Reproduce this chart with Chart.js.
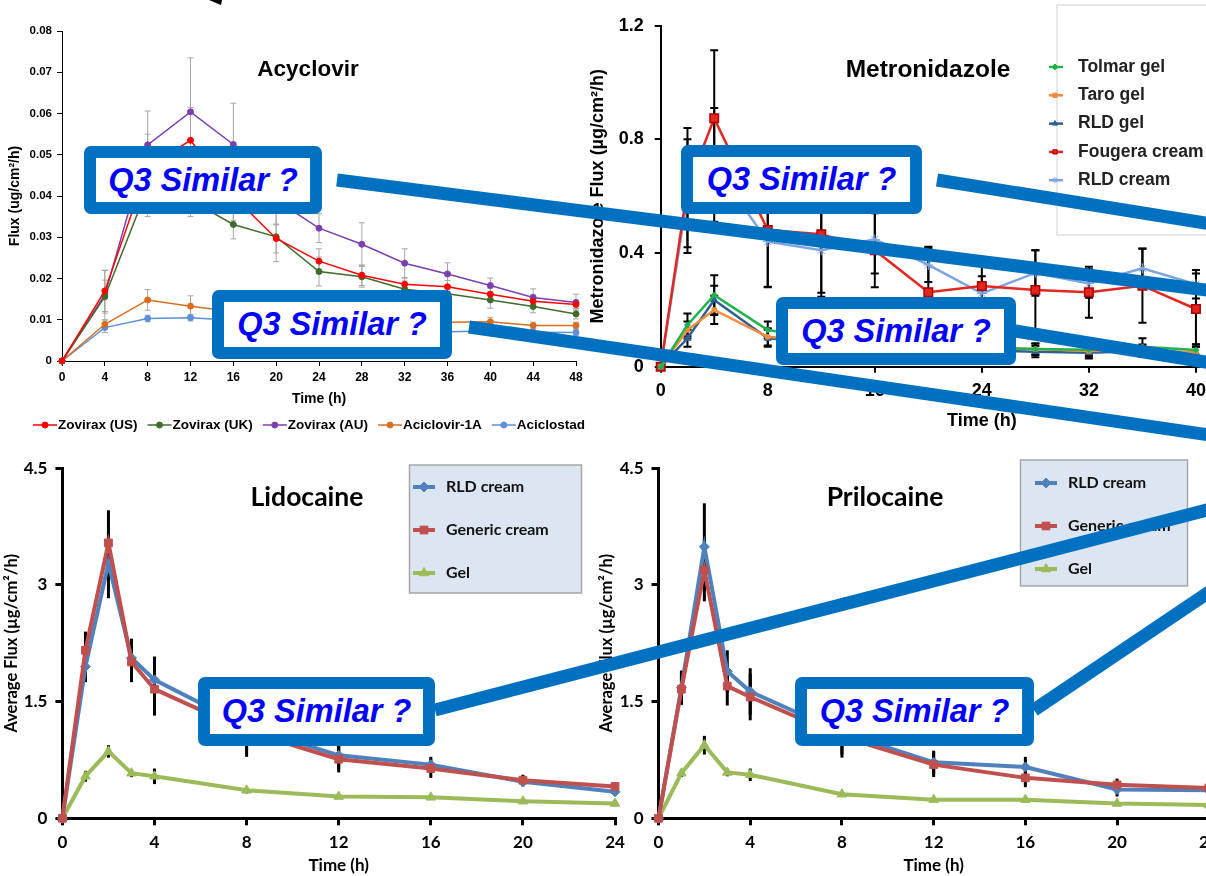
<!DOCTYPE html>
<html>
<head>
<meta charset="utf-8">
<title>Q3 similarity - flux profiles</title>
<script src="https://cdn.jsdelivr.net/npm/chart.js@4.4.0/dist/chart.umd.min.js"></script>
<style>
  body { margin: 0; width: 1206px; height: 876px; overflow: hidden; background: #fff; position: relative; }
  canvas { position: absolute; }
  #overlay { position: absolute; left: 0; top: 0; z-index: 5; }
  .q3 {
    position: absolute; z-index: 6; box-sizing: border-box;
    border: 12px solid #0070c0; border-radius: 7px; background: #fff;
    color: #0000ff; font: italic bold 32.5px "Liberation Sans", Arial, sans-serif;
    display: flex; align-items: center; justify-content: center; white-space: nowrap;
  }
</style>
</head>
<body>

<canvas id="acy-chart" width="600" height="445" style="left:0;top:0"></canvas>
<canvas id="metro-chart" width="745" height="445" style="left:585px;top:0"></canvas>
<canvas id="lido-chart" width="640" height="426" style="left:0;top:450px"></canvas>
<canvas id="prilo-chart" width="640" height="426" style="left:595px;top:450px"></canvas>

<svg id="overlay" width="1206" height="876">
  <polygon points="209,0 222,0 221,5" fill="#000"/>
  <g stroke="#0070c0" stroke-width="13">
    <line x1="337" y1="180" x2="1230" y2="293"/>
    <line x1="469" y1="327" x2="1230" y2="438"/>
    <line x1="937" y1="180" x2="1230" y2="227"/>
    <line x1="1015" y1="331" x2="1230" y2="366"/>
    <line x1="435" y1="710" x2="1230" y2="504"/>
    <line x1="1034" y1="710" x2="1230" y2="578"/>
  </g>
</svg>

<div class="q3" style="left:84px;top:146px;width:238px;height:68px">Q3 Similar ?</div>
<div class="q3" style="left:212px;top:290px;width:240px;height:69px">Q3 Similar ?</div>
<div class="q3" style="left:681px;top:145px;width:241px;height:69px">Q3 Similar ?</div>
<div class="q3" style="left:776px;top:297px;width:240px;height:68px">Q3 Similar ?</div>
<div class="q3" style="left:198px;top:677px;width:237px;height:69px">Q3 Similar ?</div>
<div class="q3" style="left:795px;top:677px;width:239px;height:69px">Q3 Similar ?</div>

<script>
// ---------- Acyclovir ----------
const acyTime = [0, 4, 8, 12, 16, 20, 24, 28, 32, 36, 40, 44, 48];
const zoviraxUS = [0, 0.017, 0.047, 0.0535, 0.040, 0.0297, 0.0242, 0.0208, 0.0186, 0.0180, 0.0162, 0.0145, 0.0137];
const zoviraxUK = [0, 0.0156, 0.042, 0.039, 0.0331, 0.0301, 0.0217, 0.0204, 0.0174, 0.0163, 0.0148, 0.0132, 0.0114];
const zoviraxAU = [0, 0.016, 0.0524, 0.0604, 0.0525, 0.039, 0.0322, 0.0283, 0.0237, 0.0211, 0.0183, 0.0154, 0.0142];
const aciclovir1A = [0, 0.0089, 0.0148, 0.0133, 0.012, 0.0112, 0.0104, 0.0099, 0.0095, 0.0094, 0.0095, 0.0086, 0.0086];
const aciclostad = [0, 0.0081, 0.0103, 0.0105, 0.0099, 0.0093, 0.0088, 0.0083, 0.0078, 0.0071, 0.0073, 0.0070, 0.0069];
const zoviraxUSErr = [0, 0.005, 0.008, 0.008, 0.006, 0.0035, 0.003, 0.0025, 0.0015, 0.0015, 0.0015, 0.0015, 0.001];
const zoviraxUKErr = [0, 0.004, 0.007, 0.004, 0.0035, 0.006, 0.0035, 0.0025, 0.002, 0.0015, 0.002, 0.0015, 0.0012];
const zoviraxAUErr = [0, 0.006, 0.0082, 0.0131, 0.0100, 0.006, 0.0035, 0.0052, 0.0035, 0.0027, 0.0018, 0.0021, 0.0020];
const aciclovir1AErr = [0, 0.001, 0.0025, 0.0025, 0.002, 0.002, 0.0015, 0.0015, 0.001, 0.001, 0.001, 0.0008, 0.0008];
const aciclostadErr = [0, 0.0012, 0.0008, 0.0008, 0.0008, 0.0008, 0.0008, 0.0008, 0.0008, 0.0008, 0.0008, 0.0008, 0.0008];

// ---------- Metronidazole ----------
const metroTime = [0, 2, 4, 8, 12, 16, 20, 24, 28, 32, 36, 40];
const tolmarGel = [0, 0.147, 0.252, 0.129, 0.10, 0.085, 0.075, 0.068, 0.062, 0.06, 0.07, 0.059];
const taroGel = [0, 0.129, 0.20, 0.105, 0.09, 0.08, 0.07, 0.065, 0.062, 0.055, 0.058, 0.05];
const rldGel = [0, 0.10, 0.235, 0.10, 0.085, 0.075, 0.065, 0.058, 0.053, 0.049, 0.055, 0.05];
const fougeraCream = [0, 0.63, 0.874, 0.481, 0.466, 0.41, 0.262, 0.284, 0.27, 0.262, 0.285, 0.203];
const rldCream = [0, 0.60, 0.71, 0.44, 0.41, 0.448, 0.358, 0.258, 0.33, 0.293, 0.346, 0.29];
const tolmarGelErr = [0, 0.04, 0.07, 0.03, 0.02, 0.02, 0.02, 0.02, 0.02, 0.02, 0.03, 0.02];
const taroGelErr = [0, 0.03, 0.05, 0.03, 0.02, 0.02, 0.02, 0.02, 0.02, 0.02, 0.02, 0.02];
const rldGelErr = [0, 0.03, 0.05, 0.03, 0.02, 0.02, 0.02, 0.02, 0.02, 0.02, 0.02, 0.02];
const fougeraCreamErr = [0, 0.21, 0.24, 0.2, 0.22, 0.13, 0.16, 0.07, 0.14, 0.09, 0.13, 0.125];
const rldCreamErr = [0, 0.2, 0.2, 0.16, 0.15, 0.12, 0.06, 0.06, 0.08, 0.05, 0.07, 0.05];

// ---------- Lidocaine / Prilocaine ----------
const lapTime = [0, 1, 2, 3, 4, 8, 12, 16, 20, 24];
const lidoRld = [0, 1.95, 3.28, 2.06, 1.78, 1.18, 0.81, 0.69, 0.47, 0.34];
const lidoGeneric = [0, 2.16, 3.54, 2.01, 1.66, 1.12, 0.76, 0.64, 0.49, 0.41];
const lidoGel = [0, 0.54, 0.86, 0.58, 0.54, 0.36, 0.28, 0.27, 0.22, 0.19];
const lidoRldErr = [0, 0.2, 0.45, 0.25, 0.3, 0.3, 0.18, 0.1, 0.06, 0.05];
const lidoGenericErr = [0, 0.24, 0.42, 0.26, 0.34, 0.33, 0.17, 0.12, 0.07, 0.05];
const lidoGelErr = [0, 0.07, 0.08, 0.05, 0.1, 0.04, 0.03, 0.03, 0.02, 0.02];

const priloRld = [0, 1.68, 3.49, 1.89, 1.63, 1.1, 0.72, 0.66, 0.37, 0.36];
const priloGeneric = [0, 1.66, 3.19, 1.70, 1.56, 1.05, 0.69, 0.52, 0.43, 0.39];
const priloGel = [0, 0.58, 0.94, 0.59, 0.56, 0.31, 0.24, 0.24, 0.19, 0.17];
const priloRldErr = [0, 0.22, 0.56, 0.27, 0.3, 0.28, 0.15, 0.13, 0.09, 0.05];
const priloGenericErr = [0, 0.2, 0.4, 0.25, 0.3, 0.27, 0.16, 0.12, 0.08, 0.05];
const priloGelErr = [0, 0.05, 0.12, 0.05, 0.08, 0.03, 0.03, 0.03, 0.02, 0.02];

const ARIAL = '"Liberation Sans", Arial, sans-serif';
const LATO = 'Lato, "Open Sans", sans-serif';
Chart.defaults.font.family = ARIAL;
Chart.defaults.color = '#000';

function pts(times, vals) {
  return vals.map((v, i) => ({ x: times[i], y: v }));
}

// error bars drawn under the lines
const errorBars = {
  id: 'errorBars',
  beforeDatasetsDraw(chart, args, opts) {
    const ctx = chart.ctx;
    const yScale = chart.scales.y;
    ctx.save();
    ctx.strokeStyle = opts.color;
    ctx.lineWidth = opts.width;
    chart.data.datasets.forEach((ds, i) => {
      if (!ds.errors) return;
      const meta = chart.getDatasetMeta(i);
      meta.data.forEach((pt, j) => {
        const err = ds.errors[j];
        if (!err) return;
        const v = ds.data[j].y;
        const top = yScale.getPixelForValue(v + err);
        const bot = yScale.getPixelForValue(Math.max(v - err, 0));
        ctx.beginPath();
        ctx.moveTo(pt.x, top);
        ctx.lineTo(pt.x, bot);
        if (opts.cap) {
          ctx.moveTo(pt.x - opts.cap, top); ctx.lineTo(pt.x + opts.cap, top);
          ctx.moveTo(pt.x - opts.cap, bot); ctx.lineTo(pt.x + opts.cap, bot);
        }
        ctx.stroke();
      });
    });
    ctx.restore();
  }
};

// legend drawn at a fixed spot (inside the plot for most panels)
const boxLegend = {
  id: 'boxLegend',
  afterDraw(chart, args, opts) {
    const ctx = chart.ctx;
    ctx.save();
    if (opts.box) {
      const b = opts.box;
      if (b.fill) { ctx.fillStyle = b.fill; ctx.fillRect(b.x, b.y, b.w, b.h); }
      ctx.strokeStyle = b.stroke;
      ctx.lineWidth = b.lineWidth || 1;
      ctx.strokeRect(b.x, b.y, b.w, b.h);
    }
    ctx.font = opts.font;
    ctx.textBaseline = 'middle';
    let x = opts.x, y = opts.y;
    chart.data.datasets.forEach(ds => {
      ctx.strokeStyle = ds.borderColor;
      ctx.lineWidth = opts.lineWidth || ds.borderWidth;
      ctx.beginPath();
      ctx.moveTo(x, y);
      ctx.lineTo(x + opts.lineLength, y);
      ctx.stroke();
      ctx.fillStyle = ds.pointBackgroundColor || ds.borderColor;
      ctx.strokeStyle = ds.pointBorderColor || ds.borderColor;
      ctx.lineWidth = 1;
      Chart.helpers.drawPoint(ctx, {
        pointStyle: ds.pointStyle, radius: opts.pointRadius || ds.pointRadius, rotation: 0, borderWidth: 1
      }, x + (opts.pointOffset != null ? opts.pointOffset : opts.lineLength / 2), y);
      ctx.fillStyle = opts.color || '#000';
      ctx.fillText(ds.label, x + opts.lineLength + opts.gap, y);
      if (opts.horizontal) {
        x += opts.lineLength + opts.gap + ctx.measureText(ds.label).width + opts.spacing;
      } else {
        y += opts.rowHeight;
      }
    });
    ctx.restore();
  }
};

// chart title that sits inside the plot area
const innerTitle = {
  id: 'innerTitle',
  afterDraw(chart, args, opts) {
    const ctx = chart.ctx;
    ctx.save();
    ctx.font = opts.font;
    ctx.fillStyle = '#000';
    ctx.textAlign = 'center';
    ctx.textBaseline = 'middle';
    ctx.fillText(opts.text, opts.x, opts.y);
    ctx.restore();
  }
};

function axis(o) {
  return {
    type: 'linear',
    min: o.min, max: o.max,
    ticks: { stepSize: o.step, maxRotation: 0, padding: o.tickPad, color: '#000',
             font: { family: o.family, size: o.tickSize, weight: 'bold' } },
    grid: { drawOnChartArea: false, tickLength: o.tickLen, color: '#000', lineWidth: o.lineW },
    border: { color: '#000', width: o.lineW },
    title: { display: true, text: o.title, color: '#000', padding: o.titlePad,
             font: { family: o.family, size: o.titleSize, weight: 'bold' } },
    afterFit: o.fit
  };
}

function lineSet(label, times, vals, errs, color, style, radius, width, extra) {
  return Object.assign({
    label: label,
    data: pts(times, vals),
    errors: errs,
    borderColor: color,
    backgroundColor: color,
    pointBackgroundColor: color,
    pointBorderColor: color,
    pointStyle: style,
    pointRadius: radius,
    pointBorderWidth: 1,
    borderWidth: width,
    clip: false,
    tension: 0
  }, extra || {});
}

// ---- Acyclovir chart ----
new Chart(document.getElementById('acy-chart'), {
  type: 'line',
  data: {
    datasets: [
      lineSet('Zovirax (US)', acyTime, zoviraxUS, zoviraxUSErr, '#ff0000', 'circle', 3, 1.5),
      lineSet('Zovirax (UK)', acyTime, zoviraxUK, zoviraxUKErr, '#3f6b2c', 'circle', 3, 1.5),
      lineSet('Zovirax (AU)', acyTime, zoviraxAU, zoviraxAUErr, '#7b3fb0', 'circle', 3, 1.5),
      lineSet('Aciclovir-1A', acyTime, aciclovir1A, aciclovir1AErr, '#d96d1f', 'circle', 3, 1.5),
      lineSet('Aciclostad', acyTime, aciclostad, aciclostadErr, '#5a8fdc', 'circle', 3, 1.5)
    ]
  },
  options: {
    responsive: false, animation: false,
    layout: { padding: { left: 0, top: 31, right: 24, bottom: 34 } },
    scales: {
      x: axis({ min: 0, max: 48, step: 4, tickPad: 4, tickSize: 12, tickLen: 5, lineW: 1, family: ARIAL,
                title: 'Time (h)', titleSize: 14, titlePad: { top: 0, bottom: 3 }, fit: s => { s.height = 50; } }),
      y: axis({ min: 0, max: 0.08, step: 0.01, tickPad: 5, tickSize: 11.5, tickLen: 5, lineW: 1, family: ARIAL,
                title: 'Flux (ug/cm\u00b2/h)', titleSize: 14, titlePad: { top: 7, bottom: 0 }, fit: s => { s.width = 62; } })
    },
    plugins: {
      legend: { display: false }, tooltip: { enabled: false },
      errorBars: { color: '#a6a6a6', width: 1, cap: 3 },
      boxLegend: { horizontal: true, x: 33, y: 425, lineLength: 24, gap: 1, spacing: 10, lineWidth: 1.5,
                   font: 'bold 13.5px ' + ARIAL },
      innerTitle: { text: 'Acyclovir', x: 308, y: 70, font: 'bold 22.5px ' + ARIAL }
    }
  },
  plugins: [errorBars, boxLegend, innerTitle]
});

// ---- Metronidazole chart ----
new Chart(document.getElementById('metro-chart'), {
  type: 'line',
  data: {
    datasets: [
      lineSet('Tolmar gel', metroTime, tolmarGel, tolmarGelErr, '#22b24c', 'rectRot', 3, 2.5),
      lineSet('Taro gel', metroTime, taroGel, taroGelErr, '#f68b3c', 'rect', 3, 2.5),
      lineSet('RLD gel', metroTime, rldGel, rldGelErr, '#2e5f94', 'triangle', 4, 2.5),
      lineSet('Fougera cream', metroTime, fougeraCream, fougeraCreamErr, '#e3261f', 'rect', 6, 2.5,
              { pointBorderColor: '#b00000', pointBorderWidth: 1.5 }),
      lineSet('RLD cream', metroTime, rldCream, rldCreamErr, '#7da4e0', 'star', 5, 2.5, { order: 1 })
    ]
  },
  options: {
    responsive: false, animation: false,
    layout: { padding: { left: 0, top: 25.7, right: 27, bottom: 6 } },
    scales: {
      x: axis({ min: 0, max: 48, step: 8, tickPad: 8, tickSize: 18, tickLen: 6, lineW: 2, family: ARIAL,
                title: 'Time (h)', titleSize: 18, titlePad: { top: 0, bottom: 7 }, fit: s => { s.height = 72.3; } }),
      y: axis({ min: 0, max: 1.2, step: 0.4, tickPad: 11, tickSize: 18, tickLen: 6, lineW: 2, family: ARIAL,
                title: 'Metronidazole Flux (\u00b5g/cm\u00b2/h)', titleSize: 18, titlePad: { top: 2, bottom: 0 },
                fit: s => { s.width = 75.7; } })
    },
    plugins: {
      legend: { display: false }, tooltip: { enabled: false },
      errorBars: { color: '#000', width: 2, cap: 4 },
      boxLegend: { x: 464, y: 67, rowHeight: 28.3, lineLength: 14, pointOffset: 6, gap: 15, lineWidth: 2.5,
                   pointRadius: 3, font: 'bold 17.5px ' + ARIAL, color: '#222',
                   box: { x: 472, y: 5, w: 300, h: 230, stroke: '#d0d0d0', lineWidth: 1 } },
      innerTitle: { text: 'Metronidazole', x: 343, y: 70, font: 'bold 24.5px ' + ARIAL }
    }
  },
  plugins: [errorBars, boxLegend, innerTitle]
});

// ---- Lidocaine / Prilocaine share the same look ----
function lapChart(id, title, titleX, rld, rldErr, generic, genericErr, gel, gelErr, legendBox, legendX, legendY, leftW, rightPad) {
  return new Chart(document.getElementById(id), {
    type: 'line',
    data: {
      datasets: [
        lineSet('RLD cream', lapTime, rld, rldErr, '#4f81bd', 'rectRot', 5, 4, { order: 1 }),
        lineSet('Generic cream', lapTime, generic, genericErr, '#c0504d', 'rect', 5.5, 4),
        lineSet('Gel', lapTime, gel, gelErr, '#9bbb59', 'triangle', 5.5, 4, { order: 2 })
      ]
    },
    options: {
      responsive: false, animation: false,
      layout: { padding: { left: 0, top: 18.3, right: rightPad, bottom: 0 } },
      scales: {
        x: axis({ min: 0, max: 24, step: 4, tickPad: 7, tickSize: 17, tickLen: 7, lineW: 3, family: LATO,
                  title: 'Time (h)', titleSize: 17, titlePad: { top: 0, bottom: 0 }, fit: s => { s.height = 57.7; } }),
        y: axis({ min: 0, max: 4.5, step: 1.5, tickPad: 8, tickSize: 17, tickLen: 7, lineW: 3, family: LATO,
                  title: 'Average Flux (\u00b5g/cm\u00b2/h)', titleSize: 16.5, titlePad: { top: 1.5, bottom: 0 },
                  fit: s => { s.width = leftW; } })
      },
      plugins: {
        legend: { display: false }, tooltip: { enabled: false },
        errorBars: { color: '#000', width: 3, cap: 0 },
        boxLegend: { x: legendX, y: legendY, rowHeight: 43, lineLength: 22, gap: 11, lineWidth: 4,
                     font: 'bold 16px ' + LATO, color: '#111', box: legendBox },
        innerTitle: { text: title, x: titleX, y: 47, font: 'bold 26.5px ' + LATO }
      }
    },
    plugins: [errorBars, boxLegend, innerTitle]
  });
}

lapChart('lido-chart', 'Lidocaine', 307, lidoRld, lidoRldErr, lidoGeneric, lidoGenericErr, lidoGel, lidoGelErr,
         { x: 409.5, y: 15, w: 172, h: 128, fill: '#dce6f2', stroke: '#a6a6a6', lineWidth: 1.5 }, 413, 37, 62.4, 25);
lapChart('prilo-chart', 'Prilocaine', 290, priloRld, priloRldErr, priloGeneric, priloGenericErr, priloGel, priloGelErr,
         { x: 425.5, y: 10, w: 167, h: 126, fill: '#dce6f2', stroke: '#a6a6a6', lineWidth: 1.5 }, 440, 33, 63.5, 26.2);
</script>
</body>
</html>
